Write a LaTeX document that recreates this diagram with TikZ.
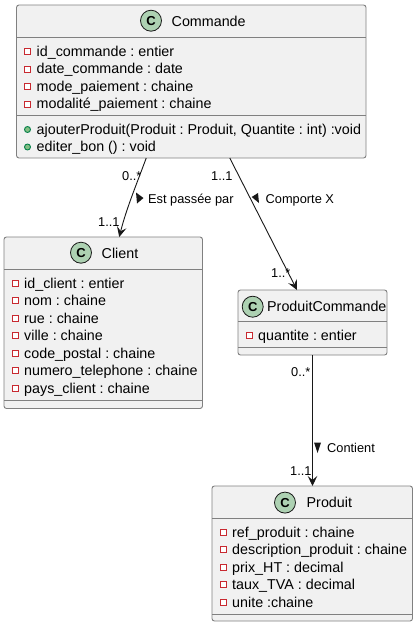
\documentclass[tikz,border=0pt]{standalone}
\usepackage{fontspec}
\setmainfont{Liberation Sans}
\frenchspacing
\usetikzlibrary{arrows.meta}
\definecolor{boxfill}{HTML}{F1F1F1}
\definecolor{boxline}{HTML}{808080}
\definecolor{edgeink}{HTML}{181818}
\definecolor{spot}{HTML}{ADD1B2}
\definecolor{privc}{HTML}{C82930}
\definecolor{pubfill}{HTML}{84BE84}
\definecolor{pubc}{HTML}{038048}
\tikzset{
  x=1pt,y=-1pt,
  classbox/.style={draw=boxline,fill=boxfill,line width=.9pt,rounded corners=2.5pt,anchor=north west,inner sep=0pt,outer sep=0pt},
  rowline/.style={draw=boxline,line width=.9pt},
  member/.style={anchor=base west,inner sep=0pt,font=\fontsize{14.3}{16}\selectfont,text=black},
  title/.style={anchor=base west,inner sep=0pt,font=\fontsize{14.3}{16}\selectfont,text=black},
  edgelabel/.style={anchor=base west,inner sep=0pt,font=\fontsize{12.8}{14}\selectfont,text=black},
  spotc/.style={circle,draw=edgeink,fill=spot,line width=.8pt,minimum size=21pt,inner sep=0pt,font=\fontsize{13}{14}\bfseries\selectfont},
  priv/.style={draw=privc,line width=.9pt,fill=white,minimum size=6pt,inner sep=0pt,anchor=center},
  pub/.style={circle,draw=pubc,line width=.9pt,fill=pubfill,minimum size=6pt,inner sep=0pt,anchor=center},
  assoc/.style={draw=edgeink,line width=.9pt,-{Stealth[length=10pt,width=9.5pt,inset=4pt]}},
  dirmark/.style={fill=edgeink,draw=none},
}
\begin{document}
\begin{tikzpicture}
\useasboundingbox (0,0) rectangle (416,627);
% Commande
\node[classbox,minimum width=349.5pt,minimum height=153pt] (cmd) at (16.5,5) {};
\draw[rowline] (cmd.west |- 0,37) -- (cmd.east |- 0,37);
\draw[rowline] (cmd.west |- 0,115.5) -- (cmd.east |- 0,115.5);
\node[spotc] (cmdc) at (151,20.7) {C};
\node[title] (cmdt) at (171.5,26.5) {Commande};
\node[priv] (c1m) at (27.5,51.5) {}; \node[member] (c1) at (36.5,56) {id\_commande : entier};
\node[priv] (c2m) at (27.5,69) {};   \node[member] (c2) at (36.5,73.5) {date\_commande : date};
\node[priv] (c3m) at (27.5,86.5) {}; \node[member] (c3) at (36.5,91) {mode\_paiement : chaine};
\node[priv] (c4m) at (27.5,104) {};  \node[member] (c4) at (36.5,108.5) {modalité\_paiement : chaine};
\node[pub] (c5m) at (27.5,129.5) {}; \node[member] (c5) at (36.5,134) {ajouterProduit(Produit : Produit, Quantite : int) :void};
\node[pub] (c6m) at (27.5,147) {};   \node[member] (c6) at (36.5,151.5) {editer\_bon () : void};
% Client
\node[classbox,minimum width=198.5pt,minimum height=171.5pt] (cli) at (4,237) {};
\draw[rowline] (cli.west |- 0,269) -- (cli.east |- 0,269);
\draw[rowline] (cli.west |- 0,400.5) -- (cli.east |- 0,400.5);
\node[spotc] (clic) at (81,252.7) {C};
\node[title] (clit) at (101.5,258.5) {Client};
\node[priv] (k1m) at (15,283) {};   \node[member] (k1) at (24,288) {id\_client : entier};
\node[priv] (k2m) at (15,300.5) {}; \node[member] (k2) at (24,305.5) {nom : chaine};
\node[priv] (k3m) at (15,318) {};   \node[member] (k3) at (24,323) {rue : chaine};
\node[priv] (k4m) at (15,335.5) {}; \node[member] (k4) at (24,340.5) {ville : chaine};
\node[priv] (k5m) at (15,353) {};   \node[member] (k5) at (24,358) {code\_postal : chaine};
\node[priv] (k6m) at (15,370.5) {}; \node[member] (k6) at (24,375.5) {numero\_telephone : chaine};
\node[priv] (k7m) at (15,388) {};   \node[member] (k7) at (24,393) {pays\_client : chaine};
% ProduitCommande
\node[classbox,minimum width=149pt,minimum height=65pt] (pc) at (238,290) {};
\draw[rowline] (pc.west |- 0,321.5) -- (pc.east |- 0,321.5);
\draw[rowline] (pc.west |- 0,347) -- (pc.east |- 0,347);
\node[spotc] (pcc) at (252.7,306.7) {C};
\node[title] (pct) at (267,311.5) {ProduitCommande};
\node[priv] (q1m) at (249,335.5) {}; \node[member] (q1) at (258,340.5) {quantite : entier};
% Produit
\node[classbox,minimum width=200.5pt,minimum height=135pt] (pr) at (212,486) {};
\draw[rowline] (pr.west |- 0,518) -- (pr.east |- 0,518);
\draw[rowline] (pr.west |- 0,614) -- (pr.east |- 0,614);
\node[spotc] (prc) at (285,502.6) {C};
\node[title] (prt) at (306.5,507.5) {Produit};
\node[priv] (p1m) at (223,532) {};   \node[member] (p1) at (232,537) {ref\_produit : chaine};
\node[priv] (p2m) at (223,549.5) {}; \node[member] (p2) at (232,554.5) {description\_produit : chaine};
\node[priv] (p3m) at (223,567) {};   \node[member] (p3) at (232,572) {prix\_HT : decimal};
\node[priv] (p4m) at (223,584.5) {}; \node[member] (p4) at (232,589.5) {taux\_TVA : decimal};
\node[priv] (p5m) at (223,602) {};   \node[member] (p5) at (232,607) {unite :chaine};
% Connectors
\draw[assoc] ([xshift=-45pt]cmd.south) .. controls +(-10,27) and +(7,-28) .. ([xshift=16pt]cli.north);
\draw[assoc] ([xshift=38.5pt]cmd.south) -- ([xshift=-15.5pt]pc.north);
\draw[assoc] ([xshift=0pt]pc.south) -- (pc.south |- pr.north);
% Labels
\node[edgelabel] (l1) at (122,180.5) {0..*};
\node[edgelabel] (l2) at (98,226.5) {1..1};
\node[edgelabel] (l3) at (148,203.5) {Est passée par};
\node[edgelabel] (l4) at (211,180.5) {1..1};
\node[edgelabel] (l5) at (265.5,203.5) {Comporte X};
\node[edgelabel] (l6) at (271,277.5) {1..*};
\node[edgelabel] (l7) at (291,376.5) {0..*};
\node[edgelabel] (l8) at (327,452.5) {Contient};
\node[edgelabel] (l9) at (290,475.5) {1..1};
\fill[dirmark] (136,192.5) -- (143.5,198) -- (137,203.5) -- cycle;
\fill[dirmark] (258,193) -- (251.7,197) -- (259,203) -- cycle;
\fill[dirmark] (314,442.5) -- (321,442.5) -- (317.5,453) -- cycle;
\end{tikzpicture}
\end{document}
